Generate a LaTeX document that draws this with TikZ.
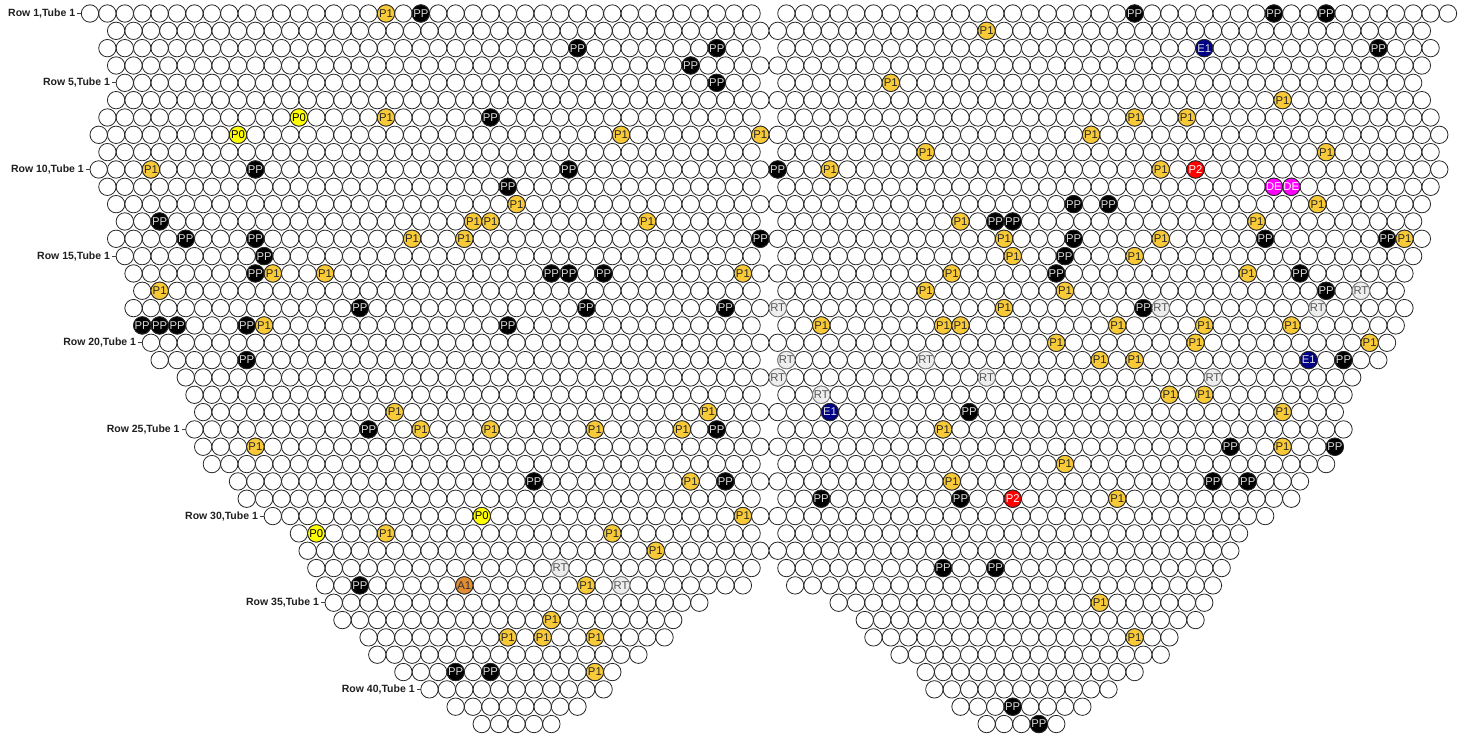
\documentclass[tikz,border=0pt]{standalone}
\usepackage{fontspec}
\setmainfont{Liberation Sans}
\definecolor{pone}{RGB}{248,202,56}
\definecolor{aone}{RGB}{226,140,52}
\definecolor{navyc}{RGB}{0,0,135}
\definecolor{pzero}{RGB}{255,255,0}
\definecolor{ptwo}{RGB}{255,0,0}
\definecolor{demag}{RGB}{255,0,255}
\definecolor{rtfill}{RGB}{238,238,238}
\definecolor{rtline}{RGB}{125,125,125}
\definecolor{rttext}{RGB}{85,85,85}
\newcommand\markTubes[3]{%
  \foreach \r/\k [count=\j] in {#3} {%
    \pgfmathsetmacro\xx{90+17.41*\k}%
    \pgfmathsetmacro\yy{13.5+17.33*(\r-1)}%
    \node[spec,#1] (#2-\j) at (\xx,\yy) {#2};%
  }}
\begin{document}
\begin{tikzpicture}[x=1pt,y=-1pt,
  tube/.style={draw=black!85,line width=0.8pt},
  spec/.style={circle,draw=black!85,line width=0.8pt,minimum size=17.4pt,inner sep=0pt,font=\fontsize{11.3}{12}\selectfont},
  sP1/.style={fill=pone,text=black!85},
  sPP/.style={fill=black,text=black!15},
  sRT/.style={fill=rtfill,draw=rtline,text=rttext},
  sE1/.style={fill=navyc,text=black!12},
  sP0/.style={fill=pzero,text=black},
  sP2/.style={fill=ptwo,text=white},
  sDE/.style={fill=demag,text=white},
  sA1/.style={fill=aone,text=black!80},
  rowlab/.style={anchor=east,inner sep=0pt,text=black!88,font=\fontsize{10.5}{12}\selectfont\bfseries},
  ticks/.style={draw=black!75,line width=0.8pt}]
\useasboundingbox (0,0) rectangle (1467,738);
% plain tubes, two mirrored halves
\foreach \r/\L/\E in {1/0/38, 2/1.5/38.5, 3/1/38, 4/1.5/38.5, 5/2/38, 6/1.5/38.5, 7/1/38, 8/0.5/38.5, 9/1/38, 10/0.5/38.5, 11/1/38, 12/1.5/38.5, 13/2/38, 14/1.5/38.5, 15/2/38, 16/2.5/38.5, 17/3/38, 18/2.5/38.5, 19/3/38, 20/3.5/38.5, 21/4/38, 22/5.5/38.5, 23/6/38, 24/6.5/38.5, 25/6/38, 26/6.5/38.5, 27/7/38, 28/8.5/38.5, 29/9/38, 30/10.5/38.5, 31/12/38, 32/12.5/38.5, 33/13/38, 34/13.5/37.5, 35/14/35, 36/14.5/33.5, 37/16/33, 38/16.5/31.5, 39/18/30, 40/19.5/29.5, 41/21/28, 42/22.5/26.5} {
  \pgfmathsetmacro\yy{13.5+17.33*(\r-1)}
  \pgfmathtruncatemacro\n{\E-\L}
  \foreach \i in {0,...,\n} {
    \pgfmathsetmacro\xa{90+17.41*(\L+\i)}
    \pgfmathsetmacro\xb{90+17.41*(78-\L-\i)}
    \draw[tube] (\xa,\yy) circle[radius=8.7pt] (\xb,\yy) circle[radius=8.7pt];
  }
}
% row labels
\foreach \r/\L in {1/0, 5/2, 10/0.5, 15/2, 20/3.5, 25/6, 30/10.5, 35/14, 40/19.5} {
  \pgfmathsetmacro\yy{13.5+17.33*(\r-1)}
  \pgfmathsetmacro\xe{90+17.41*\L-8.7}
  \coordinate (te\r) at (\xe,\yy);
  \coordinate (ts\r) at (\xe-4,\yy);
  \node[rowlab] (lab\r) at (\xe-6,\yy) {Row \r,Tube 1};
  \draw[ticks] (ts\r) -- (te\r);
}
% marked tubes
\markTubes{sP1}{P1}{1/17, 2/51.5, 5/46, 6/68.5, 7/17, 7/60, 7/63, 8/30.5, 8/38.5, 8/57.5, 9/48, 9/71, 10/3.5, 10/42.5, 10/61.5, 12/24.5, 12/70.5, 13/22, 13/23, 13/32, 13/50, 13/67, 14/18.5, 14/21.5, 14/52.5, 14/61.5, 14/75.5, 15/53, 15/60, 16/10.5, 16/13.5, 16/37.5, 16/49.5, 16/66.5, 17/4, 17/48, 17/56, 18/52.5, 19/10, 19/42, 19/49, 19/50, 19/59, 19/64, 19/69, 20/55.5, 20/63.5, 20/73.5, 21/58, 21/60, 23/62, 23/64, 24/17.5, 24/35.5, 24/68.5, 25/19, 25/23, 25/29, 25/34, 25/49, 26/9.5, 26/68.5, 27/56, 28/34.5, 28/49.5, 29/59, 30/37.5, 31/17, 31/30, 32/32.5, 34/28.5, 35/58, 36/26.5, 37/24, 37/26, 37/29, 37/60, 39/29}
\markTubes{sPP}{PP}{1/19, 1/60, 1/68, 1/71, 3/28, 3/36, 3/74, 4/34.5, 5/36, 7/23, 10/9.5, 10/27.5, 10/39.5, 11/24, 12/56.5, 12/58.5, 13/4, 13/52, 13/53, 14/5.5, 14/9.5, 14/38.5, 14/56.5, 14/67.5, 14/74.5, 15/10, 15/56, 16/9.5, 16/26.5, 16/27.5, 16/29.5, 16/55.5, 16/69.5, 17/71, 18/15.5, 18/28.5, 18/36.5, 18/60.5, 19/3, 19/4, 19/5, 19/9, 19/24, 21/9, 21/72, 24/50.5, 25/16, 25/36, 26/65.5, 26/71.5, 28/25.5, 28/36.5, 28/64.5, 28/66.5, 29/42, 29/50, 33/49, 33/52, 34/15.5, 39/21, 39/23, 41/53, 42/54.5}
\markTubes{sRT}{RT}{17/73, 18/39.5, 18/61.5, 18/70.5, 21/40, 21/48, 22/39.5, 22/51.5, 22/64.5, 23/42, 33/27, 34/30.5}
\markTubes{sE1}{E1}{3/64, 21/70, 24/42.5}
\markTubes{sP0}{P0}{7/12, 8/8.5, 30/22.5, 31/13}
\markTubes{sP2}{P2}{10/63.5, 29/53}
\markTubes{sDE}{DE}{11/68, 11/69}
\markTubes{sA1}{A1}{34/21.5}
\end{tikzpicture}
\end{document}
